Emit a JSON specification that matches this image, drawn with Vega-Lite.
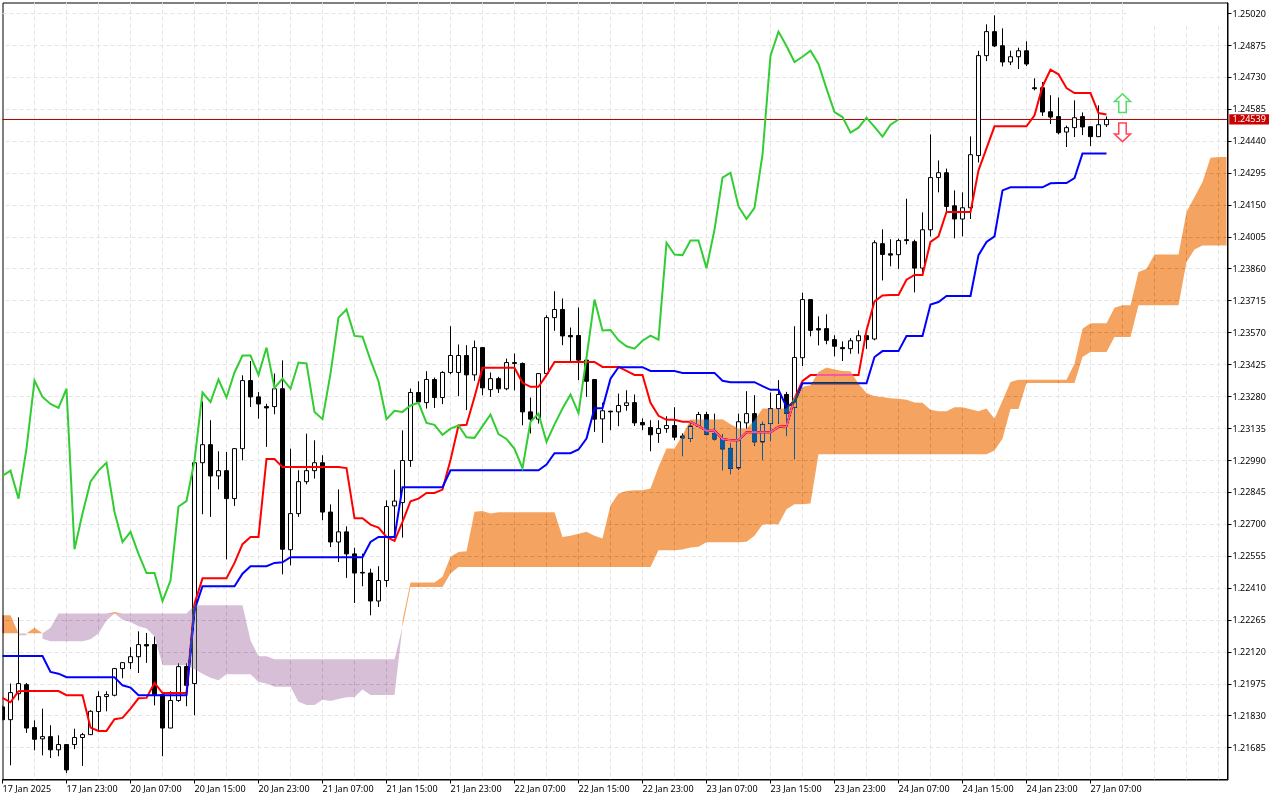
{"$schema":"https://vega.github.io/schema/vega-lite/v6.json","width":1225,"height":777,"autosize":"none","padding":{"left":2.5,"top":2.5,"right":52.5,"bottom":20.5},"background":"white","config":{"view":{"stroke":"black","strokeWidth":1},"axis":{"translate":0,"labelOverlap":false}},
"datasets":{
"candles":[
{"bar":0,"open":1.21871,"high":1.21878,"low":1.2181,"close":1.21813},
{"bar":1,"open":1.21813,"high":1.21977,"low":1.21606,"close":1.21936},
{"bar":2,"open":1.21931,"high":1.22278,"low":1.21901,"close":1.21977},
{"bar":3,"open":1.21972,"high":1.2198,"low":1.21753,"close":1.21775},
{"bar":4,"open":1.21777,"high":1.2181,"low":1.21674,"close":1.21724},
{"bar":5,"open":1.21726,"high":1.21863,"low":1.21651,"close":1.21736},
{"bar":6,"open":1.21736,"high":1.21788,"low":1.21639,"close":1.21676},
{"bar":7,"open":1.21676,"high":1.21742,"low":1.21647,"close":1.217},
{"bar":8,"open":1.217,"high":1.217,"low":1.21571,"close":1.21585},
{"bar":9,"open":1.217,"high":1.21772,"low":1.21679,"close":1.21732},
{"bar":10,"open":1.21732,"high":1.21753,"low":1.21603,"close":1.21745},
{"bar":11,"open":1.21745,"high":1.21856,"low":1.21745,"close":1.21851},
{"bar":12,"open":1.2185,"high":1.21942,"low":1.21762,"close":1.21918},
{"bar":13,"open":1.21918,"high":1.21942,"low":1.21851,"close":1.21927},
{"bar":14,"open":1.21924,"high":1.22048,"low":1.21919,"close":1.22045},
{"bar":15,"open":1.22045,"high":1.22072,"low":1.22001,"close":1.22072},
{"bar":16,"open":1.22072,"high":1.22142,"low":1.22043,"close":1.22099},
{"bar":17,"open":1.22099,"high":1.22214,"low":1.22025,"close":1.22154},
{"bar":18,"open":1.22154,"high":1.22207,"low":1.22071,"close":1.22148},
{"bar":19,"open":1.22154,"high":1.2219,"low":1.21878,"close":1.21927},
{"bar":20,"open":1.21927,"high":1.21927,"low":1.21647,"close":1.21775},
{"bar":21,"open":1.21775,"high":1.21942,"low":1.21775,"close":1.219},
{"bar":22,"open":1.219,"high":1.22068,"low":1.21894,"close":1.22054},
{"bar":23,"open":1.22054,"high":1.22068,"low":1.21874,"close":1.21969},
{"bar":24,"open":1.21977,"high":1.2298,"low":1.21833,"close":1.2298},
{"bar":25,"open":1.2298,"high":1.23259,"low":1.22746,"close":1.23062},
{"bar":26,"open":1.23062,"high":1.23173,"low":1.22734,"close":1.2292},
{"bar":27,"open":1.2292,"high":1.23032,"low":1.22859,"close":1.22944},
{"bar":28,"open":1.22944,"high":1.23029,"low":1.22541,"close":1.22817},
{"bar":29,"open":1.22817,"high":1.23047,"low":1.22784,"close":1.23044},
{"bar":30,"open":1.23044,"high":1.23377,"low":1.22991,"close":1.23353},
{"bar":31,"open":1.23353,"high":1.23442,"low":1.23233,"close":1.23279},
{"bar":32,"open":1.23279,"high":1.23301,"low":1.2318,"close":1.23247},
{"bar":33,"open":1.23235,"high":1.23248,"low":1.23052,"close":1.23229},
{"bar":34,"open":1.23235,"high":1.23385,"low":1.232,"close":1.23316},
{"bar":35,"open":1.23316,"high":1.23445,"low":1.22473,"close":1.22587},
{"bar":36,"open":1.22585,"high":1.23044,"low":1.22514,"close":1.22749},
{"bar":37,"open":1.22749,"high":1.22946,"low":1.22734,"close":1.22894},
{"bar":38,"open":1.22894,"high":1.23112,"low":1.22882,"close":1.22944},
{"bar":39,"open":1.22944,"high":1.23082,"low":1.22908,"close":1.2298},
{"bar":40,"open":1.2298,"high":1.23014,"low":1.22719,"close":1.22756},
{"bar":41,"open":1.22756,"high":1.22791,"low":1.22597,"close":1.2262},
{"bar":42,"open":1.2262,"high":1.22859,"low":1.22529,"close":1.22666},
{"bar":43,"open":1.22666,"high":1.22691,"low":1.22457,"close":1.22566},
{"bar":44,"open":1.22566,"high":1.22594,"low":1.22343,"close":1.22479},
{"bar":45,"open":1.22482,"high":1.22567,"low":1.22419,"close":1.22479},
{"bar":46,"open":1.22479,"high":1.22499,"low":1.22287,"close":1.22352},
{"bar":47,"open":1.22352,"high":1.2251,"low":1.22325,"close":1.22445},
{"bar":48,"open":1.22445,"high":1.22809,"low":1.22416,"close":1.22781},
{"bar":49,"open":1.22784,"high":1.22949,"low":1.22643,"close":1.22806},
{"bar":50,"open":1.22799,"high":1.23127,"low":1.2264,"close":1.2299},
{"bar":51,"open":1.2299,"high":1.23317,"low":1.22961,"close":1.23299},
{"bar":52,"open":1.23299,"high":1.2335,"low":1.23253,"close":1.23256},
{"bar":53,"open":1.23253,"high":1.23396,"low":1.23226,"close":1.23358},
{"bar":54,"open":1.23358,"high":1.23367,"low":1.23229,"close":1.23276},
{"bar":55,"open":1.23276,"high":1.23396,"low":1.23246,"close":1.2339},
{"bar":56,"open":1.2339,"high":1.236,"low":1.23382,"close":1.23467},
{"bar":57,"open":1.2339,"high":1.23517,"low":1.23282,"close":1.23467},
{"bar":58,"open":1.23467,"high":1.23514,"low":1.23219,"close":1.23379},
{"bar":59,"open":1.23379,"high":1.23535,"low":1.23352,"close":1.23503},
{"bar":60,"open":1.23503,"high":1.23503,"low":1.23287,"close":1.2332},
{"bar":61,"open":1.23312,"high":1.2339,"low":1.23279,"close":1.23362},
{"bar":62,"open":1.23362,"high":1.2337,"low":1.23297,"close":1.23316},
{"bar":63,"open":1.23316,"high":1.23453,"low":1.23309,"close":1.23435},
{"bar":64,"open":1.23435,"high":1.23476,"low":1.23309,"close":1.23431},
{"bar":65,"open":1.23431,"high":1.23435,"low":1.2315,"close":1.23211},
{"bar":66,"open":1.23211,"high":1.23276,"low":1.23113,"close":1.23178},
{"bar":67,"open":1.23178,"high":1.23385,"low":1.23158,"close":1.23385},
{"bar":68,"open":1.23385,"high":1.2365,"low":1.23378,"close":1.23639},
{"bar":69,"open":1.23639,"high":1.23759,"low":1.23579,"close":1.23676},
{"bar":70,"open":1.23676,"high":1.23726,"low":1.23514,"close":1.23556},
{"bar":71,"open":1.23558,"high":1.23594,"low":1.23441,"close":1.23552},
{"bar":72,"open":1.23558,"high":1.23685,"low":1.23355,"close":1.23446},
{"bar":73,"open":1.23446,"high":1.23453,"low":1.23279,"close":1.2335},
{"bar":74,"open":1.23358,"high":1.23358,"low":1.2312,"close":1.23178},
{"bar":75,"open":1.23179,"high":1.23253,"low":1.2307,"close":1.23216},
{"bar":76,"open":1.23214,"high":1.23216,"low":1.23128,"close":1.23211},
{"bar":77,"open":1.23211,"high":1.23294,"low":1.23146,"close":1.2324},
{"bar":78,"open":1.2324,"high":1.23309,"low":1.23216,"close":1.23252},
{"bar":79,"open":1.23253,"high":1.2329,"low":1.23147,"close":1.23161},
{"bar":80,"open":1.23163,"high":1.23181,"low":1.23128,"close":1.23152},
{"bar":81,"open":1.2314,"high":1.23173,"low":1.23032,"close":1.23107},
{"bar":82,"open":1.23113,"high":1.23173,"low":1.2307,"close":1.23135},
{"bar":83,"open":1.23135,"high":1.23191,"low":1.23116,"close":1.23149},
{"bar":84,"open":1.23149,"high":1.23232,"low":1.23082,"close":1.23096},
{"bar":85,"open":1.23101,"high":1.23113,"low":1.2301,"close":1.23093},
{"bar":86,"open":1.2309,"high":1.23158,"low":1.23075,"close":1.23146},
{"bar":87,"open":1.23146,"high":1.23211,"low":1.23143,"close":1.23199},
{"bar":88,"open":1.23199,"high":1.23211,"low":1.23105,"close":1.2311},
{"bar":89,"open":1.23113,"high":1.23203,"low":1.23082,"close":1.23088},
{"bar":90,"open":1.23088,"high":1.2311,"low":1.22946,"close":1.23043},
{"bar":91,"open":1.23045,"high":1.23067,"low":1.22928,"close":1.22955},
{"bar":92,"open":1.22957,"high":1.23203,"low":1.22949,"close":1.23166},
{"bar":93,"open":1.23161,"high":1.23305,"low":1.23135,"close":1.23203},
{"bar":94,"open":1.23203,"high":1.23287,"low":1.23057,"close":1.23075},
{"bar":95,"open":1.23075,"high":1.23166,"low":1.22992,"close":1.23154},
{"bar":96,"open":1.23158,"high":1.23299,"low":1.23078,"close":1.23226},
{"bar":97,"open":1.23226,"high":1.23355,"low":1.23158,"close":1.2329},
{"bar":98,"open":1.2329,"high":1.23302,"low":1.23101,"close":1.23205},
{"bar":99,"open":1.23231,"high":1.236,"low":1.22996,"close":1.23458},
{"bar":100,"open":1.23457,"high":1.23752,"low":1.23419,"close":1.23721},
{"bar":101,"open":1.23721,"high":1.23721,"low":1.23554,"close":1.23581},
{"bar":102,"open":1.23589,"high":1.23645,"low":1.23513,"close":1.23583},
{"bar":103,"open":1.23589,"high":1.23654,"low":1.23518,"close":1.23536},
{"bar":104,"open":1.23539,"high":1.23559,"low":1.23463,"close":1.23509},
{"bar":105,"open":1.23503,"high":1.23531,"low":1.23442,"close":1.23498},
{"bar":106,"open":1.23498,"high":1.23546,"low":1.23475,"close":1.23534},
{"bar":107,"open":1.23534,"high":1.23581,"low":1.23475,"close":1.23557},
{"bar":108,"open":1.23557,"high":1.23557,"low":1.23497,"close":1.23539},
{"bar":109,"open":1.23542,"high":1.2399,"low":1.23536,"close":1.23979},
{"bar":110,"open":1.23975,"high":1.2404,"low":1.23808,"close":1.23926},
{"bar":111,"open":1.23929,"high":1.23995,"low":1.23872,"close":1.23923},
{"bar":112,"open":1.23925,"high":1.23998,"low":1.2386,"close":1.23989},
{"bar":113,"open":1.23993,"high":1.24179,"low":1.23972,"close":1.23989},
{"bar":114,"open":1.23984,"high":1.23993,"low":1.23754,"close":1.23864},
{"bar":115,"open":1.23864,"high":1.24117,"low":1.23846,"close":1.24038},
{"bar":116,"open":1.24038,"high":1.24471,"low":1.24008,"close":1.24275},
{"bar":117,"open":1.24275,"high":1.24353,"low":1.24208,"close":1.24297},
{"bar":118,"open":1.24297,"high":1.24316,"low":1.24117,"close":1.24144},
{"bar":119,"open":1.24147,"high":1.24217,"low":1.23999,"close":1.24087},
{"bar":120,"open":1.24087,"high":1.24208,"low":1.24008,"close":1.24138},
{"bar":121,"open":1.24138,"high":1.24462,"low":1.24087,"close":1.24379},
{"bar":122,"open":1.24375,"high":1.24851,"low":1.24344,"close":1.24829},
{"bar":123,"open":1.24829,"high":1.24971,"low":1.24804,"close":1.24938},
{"bar":124,"open":1.24938,"high":1.25012,"low":1.24868,"close":1.24873},
{"bar":125,"open":1.24874,"high":1.24953,"low":1.2478,"close":1.248},
{"bar":126,"open":1.248,"high":1.24851,"low":1.24786,"close":1.24824},
{"bar":127,"open":1.24824,"high":1.24865,"low":1.24768,"close":1.24851},
{"bar":128,"open":1.24851,"high":1.24894,"low":1.24782,"close":1.24791},
{"bar":129,"open":1.24683,"high":1.24726,"low":1.24671,"close":1.24679},
{"bar":130,"open":1.24683,"high":1.24709,"low":1.24555,"close":1.24573},
{"bar":131,"open":1.24574,"high":1.24649,"low":1.24518,"close":1.2455},
{"bar":132,"open":1.24552,"high":1.24639,"low":1.24471,"close":1.24479},
{"bar":133,"open":1.24482,"high":1.24511,"low":1.24414,"close":1.24502},
{"bar":134,"open":1.24502,"high":1.24626,"low":1.24459,"close":1.24547},
{"bar":135,"open":1.24552,"high":1.24571,"low":1.24468,"close":1.24505},
{"bar":136,"open":1.24506,"high":1.24506,"low":1.24418,"close":1.24461},
{"bar":137,"open":1.24461,"high":1.24603,"low":1.24459,"close":1.24515},
{"bar":138,"open":1.24515,"high":1.24553,"low":1.24505,"close":1.24539}
],
"lines":[
{"bar":0,"tenkan":1.21912,"kijun":1.22102},{"bar":1,"tenkan":1.21892,"kijun":1.22102},{"bar":2,"tenkan":1.21942,"kijun":1.22102},{"bar":3,"tenkan":1.21943,"kijun":1.22102},{"bar":4,"tenkan":1.21943,"kijun":1.22102},{"bar":5,"tenkan":1.21943,"kijun":1.22102},{"bar":6,"tenkan":1.21943,"kijun":1.2203},{"bar":7,"tenkan":1.21943,"kijun":1.22022},{"bar":8,"tenkan":1.21924,"kijun":1.22006},{"bar":9,"tenkan":1.21924,"kijun":1.22006},
{"bar":10,"tenkan":1.21924,"kijun":1.22006},{"bar":11,"tenkan":1.21777,"kijun":1.22006},{"bar":12,"tenkan":1.21762,"kijun":1.22006},{"bar":13,"tenkan":1.21762,"kijun":1.22006},{"bar":14,"tenkan":1.21815,"kijun":1.22006},{"bar":15,"tenkan":1.21821,"kijun":1.21969},{"bar":16,"tenkan":1.21863,"kijun":1.21959},{"bar":17,"tenkan":1.2191,"kijun":1.21924},{"bar":18,"tenkan":1.21912,"kijun":1.21924},{"bar":19,"tenkan":1.2198,"kijun":1.21924},
{"bar":20,"tenkan":1.21934,"kijun":1.21924},{"bar":21,"tenkan":1.21934,"kijun":1.21924},{"bar":22,"tenkan":1.21934,"kijun":1.21924},{"bar":23,"tenkan":1.21934,"kijun":1.21924},{"bar":24,"tenkan":1.2234,"kijun":1.2231},{"bar":25,"tenkan":1.22455,"kijun":1.22419},{"bar":26,"tenkan":1.22455,"kijun":1.22419},{"bar":27,"tenkan":1.22455,"kijun":1.22419},{"bar":28,"tenkan":1.22455,"kijun":1.22419},{"bar":29,"tenkan":1.22525,"kijun":1.22419},
{"bar":30,"tenkan":1.2261,"kijun":1.22476},{"bar":31,"tenkan":1.22643,"kijun":1.2251},{"bar":32,"tenkan":1.22643,"kijun":1.2251},{"bar":33,"tenkan":1.22997,"kijun":1.2251},{"bar":34,"tenkan":1.22997,"kijun":1.22525},{"bar":35,"tenkan":1.22961,"kijun":1.22528},{"bar":36,"tenkan":1.22961,"kijun":1.22551},{"bar":37,"tenkan":1.22961,"kijun":1.22551},{"bar":38,"tenkan":1.22961,"kijun":1.22551},{"bar":39,"tenkan":1.22961,"kijun":1.22551},
{"bar":40,"tenkan":1.22961,"kijun":1.22551},{"bar":41,"tenkan":1.22961,"kijun":1.22551},{"bar":42,"tenkan":1.22961,"kijun":1.22551},{"bar":43,"tenkan":1.22956,"kijun":1.22551},{"bar":44,"tenkan":1.22728,"kijun":1.22551},{"bar":45,"tenkan":1.22728,"kijun":1.22551},{"bar":46,"tenkan":1.22699,"kijun":1.2262},{"bar":47,"tenkan":1.22685,"kijun":1.22643},{"bar":48,"tenkan":1.22643,"kijun":1.22643},{"bar":49,"tenkan":1.22625,"kijun":1.22643},
{"bar":50,"tenkan":1.22711,"kijun":1.22869},{"bar":51,"tenkan":1.22805,"kijun":1.22869},{"bar":52,"tenkan":1.22817,"kijun":1.22869},{"bar":53,"tenkan":1.22843,"kijun":1.22869},{"bar":54,"tenkan":1.22843,"kijun":1.22869},{"bar":55,"tenkan":1.22858,"kijun":1.22869},{"bar":56,"tenkan":1.22992,"kijun":1.22946},{"bar":57,"tenkan":1.23149,"kijun":1.22946},{"bar":58,"tenkan":1.23152,"kijun":1.22946},{"bar":59,"tenkan":1.23279,"kijun":1.22946},
{"bar":60,"tenkan":1.23411,"kijun":1.22946},{"bar":61,"tenkan":1.23411,"kijun":1.22946},{"bar":62,"tenkan":1.23411,"kijun":1.22946},{"bar":63,"tenkan":1.23411,"kijun":1.22946},{"bar":64,"tenkan":1.23411,"kijun":1.22946},{"bar":65,"tenkan":1.23343,"kijun":1.22946},{"bar":66,"tenkan":1.23325,"kijun":1.22946},{"bar":67,"tenkan":1.23325,"kijun":1.22946},{"bar":68,"tenkan":1.23378,"kijun":1.22972},{"bar":69,"tenkan":1.23438,"kijun":1.23023},
{"bar":70,"tenkan":1.23438,"kijun":1.23023},{"bar":71,"tenkan":1.23438,"kijun":1.23023},{"bar":72,"tenkan":1.23438,"kijun":1.2304},{"bar":73,"tenkan":1.23438,"kijun":1.2309},{"bar":74,"tenkan":1.23438,"kijun":1.23228},{"bar":75,"tenkan":1.23415,"kijun":1.23228},{"bar":76,"tenkan":1.23415,"kijun":1.23362},{"bar":77,"tenkan":1.23415,"kijun":1.23414},{"bar":78,"tenkan":1.23397,"kijun":1.23414},{"bar":79,"tenkan":1.23379,"kijun":1.23414},
{"bar":80,"tenkan":1.23379,"kijun":1.23414},{"bar":81,"tenkan":1.23252,"kijun":1.23397},{"bar":82,"tenkan":1.23193,"kijun":1.23397},{"bar":83,"tenkan":1.23175,"kijun":1.23397},{"bar":84,"tenkan":1.23175,"kijun":1.23397},{"bar":85,"tenkan":1.23166,"kijun":1.23388},{"bar":86,"tenkan":1.23166,"kijun":1.23388},{"bar":87,"tenkan":1.23147,"kijun":1.23388},{"bar":88,"tenkan":1.23125,"kijun":1.23388},{"bar":89,"tenkan":1.23125,"kijun":1.23388},
{"bar":90,"tenkan":1.23088,"kijun":1.23352},{"bar":91,"tenkan":1.23082,"kijun":1.23346},{"bar":92,"tenkan":1.23082,"kijun":1.23346},{"bar":93,"tenkan":1.23119,"kijun":1.23346},{"bar":94,"tenkan":1.23119,"kijun":1.23346},{"bar":95,"tenkan":1.23119,"kijun":1.23328},{"bar":96,"tenkan":1.23119,"kijun":1.23311},{"bar":97,"tenkan":1.23143,"kijun":1.23311},{"bar":98,"tenkan":1.23146,"kijun":1.23234},{"bar":99,"tenkan":1.23272,"kijun":1.23256},
{"bar":100,"tenkan":1.23352,"kijun":1.23341},{"bar":101,"tenkan":1.23378,"kijun":1.23341},{"bar":102,"tenkan":1.23379,"kijun":1.23341},{"bar":103,"tenkan":1.23378,"kijun":1.23341},{"bar":104,"tenkan":1.23378,"kijun":1.23341},{"bar":105,"tenkan":1.23378,"kijun":1.23341},{"bar":106,"tenkan":1.23378,"kijun":1.23341},{"bar":107,"tenkan":1.23378,"kijun":1.23341},{"bar":108,"tenkan":1.23581,"kijun":1.23341},{"bar":109,"tenkan":1.23713,"kijun":1.2346},
{"bar":110,"tenkan":1.2374,"kijun":1.23487},{"bar":111,"tenkan":1.23742,"kijun":1.23487},{"bar":112,"tenkan":1.23742,"kijun":1.23487},{"bar":113,"tenkan":1.23811,"kijun":1.23556},{"bar":114,"tenkan":1.23833,"kijun":1.23556},{"bar":115,"tenkan":1.23833,"kijun":1.23556},{"bar":116,"tenkan":1.23983,"kijun":1.23699},{"bar":117,"tenkan":1.24008,"kijun":1.2371},{"bar":118,"tenkan":1.24119,"kijun":1.23737},{"bar":119,"tenkan":1.24119,"kijun":1.23737},
{"bar":120,"tenkan":1.24119,"kijun":1.23737},{"bar":121,"tenkan":1.24119,"kijun":1.23737},{"bar":122,"tenkan":1.24308,"kijun":1.23923},{"bar":123,"tenkan":1.24408,"kijun":1.23983},{"bar":124,"tenkan":1.24508,"kijun":1.24008},{"bar":125,"tenkan":1.24508,"kijun":1.24217},{"bar":126,"tenkan":1.24508,"kijun":1.24231},{"bar":127,"tenkan":1.24508,"kijun":1.24231},{"bar":128,"tenkan":1.24508,"kijun":1.24231},{"bar":129,"tenkan":1.24558,"kijun":1.24231},
{"bar":130,"tenkan":1.24689,"kijun":1.24231},{"bar":131,"tenkan":1.24765,"kijun":1.24249},{"bar":132,"tenkan":1.24744,"kijun":1.2425},{"bar":133,"tenkan":1.24682,"kijun":1.2425},{"bar":134,"tenkan":1.24659,"kijun":1.24273},{"bar":135,"tenkan":1.24659,"kijun":1.24385},{"bar":136,"tenkan":1.24659,"kijun":1.24385},{"bar":137,"tenkan":1.24568,"kijun":1.24385},{"bar":138,"tenkan":1.24562,"kijun":1.24385}
],
"chikou":[
{"bar":0,"value":1.2292},{"bar":1,"value":1.22944},{"bar":2,"value":1.22817},{"bar":3,"value":1.23044},{"bar":4,"value":1.23353},{"bar":5,"value":1.23279},{"bar":6,"value":1.23247},{"bar":7,"value":1.23229},{"bar":8,"value":1.23316},{"bar":9,"value":1.22587},
{"bar":10,"value":1.22749},{"bar":11,"value":1.22894},{"bar":12,"value":1.22944},{"bar":13,"value":1.2298},{"bar":14,"value":1.22756},{"bar":15,"value":1.2262},{"bar":16,"value":1.22666},{"bar":17,"value":1.22566},{"bar":18,"value":1.22479},{"bar":19,"value":1.22479},
{"bar":20,"value":1.22352},{"bar":21,"value":1.22445},{"bar":22,"value":1.22781},{"bar":23,"value":1.22806},{"bar":24,"value":1.2299},{"bar":25,"value":1.23299},{"bar":26,"value":1.23256},{"bar":27,"value":1.23358},{"bar":28,"value":1.23276},{"bar":29,"value":1.2339},
{"bar":30,"value":1.23467},{"bar":31,"value":1.23467},{"bar":32,"value":1.23379},{"bar":33,"value":1.23503},{"bar":34,"value":1.2332},{"bar":35,"value":1.23362},{"bar":36,"value":1.23316},{"bar":37,"value":1.23435},{"bar":38,"value":1.23431},{"bar":39,"value":1.23211},
{"bar":40,"value":1.23178},{"bar":41,"value":1.23385},{"bar":42,"value":1.23639},{"bar":43,"value":1.23676},{"bar":44,"value":1.23556},{"bar":45,"value":1.23552},{"bar":46,"value":1.23446},{"bar":47,"value":1.2335},{"bar":48,"value":1.23178},{"bar":49,"value":1.23216},
{"bar":50,"value":1.23211},{"bar":51,"value":1.2324},{"bar":52,"value":1.23252},{"bar":53,"value":1.23161},{"bar":54,"value":1.23152},{"bar":55,"value":1.23107},{"bar":56,"value":1.23135},{"bar":57,"value":1.23149},{"bar":58,"value":1.23096},{"bar":59,"value":1.23093},
{"bar":60,"value":1.23146},{"bar":61,"value":1.23199},{"bar":62,"value":1.2311},{"bar":63,"value":1.23088},{"bar":64,"value":1.23043},{"bar":65,"value":1.22955},{"bar":66,"value":1.23166},{"bar":67,"value":1.23203},{"bar":68,"value":1.23075},{"bar":69,"value":1.23154},
{"bar":70,"value":1.23226},{"bar":71,"value":1.2329},{"bar":72,"value":1.23205},{"bar":73,"value":1.23458},{"bar":74,"value":1.23721},{"bar":75,"value":1.23581},{"bar":76,"value":1.23583},{"bar":77,"value":1.23536},{"bar":78,"value":1.23509},{"bar":79,"value":1.23498},
{"bar":80,"value":1.23534},{"bar":81,"value":1.23557},{"bar":82,"value":1.23539},{"bar":83,"value":1.23979},{"bar":84,"value":1.23926},{"bar":85,"value":1.23923},{"bar":86,"value":1.23989},{"bar":87,"value":1.23989},{"bar":88,"value":1.23864},{"bar":89,"value":1.24038},
{"bar":90,"value":1.24275},{"bar":91,"value":1.24297},{"bar":92,"value":1.24144},{"bar":93,"value":1.24087},{"bar":94,"value":1.24138},{"bar":95,"value":1.24379},{"bar":96,"value":1.24829},{"bar":97,"value":1.24938},{"bar":98,"value":1.24873},{"bar":99,"value":1.248},
{"bar":100,"value":1.24824},{"bar":101,"value":1.24851},{"bar":102,"value":1.24791},{"bar":103,"value":1.24679},{"bar":104,"value":1.24573},{"bar":105,"value":1.2455},{"bar":106,"value":1.24479},{"bar":107,"value":1.24502},{"bar":108,"value":1.24547},{"bar":109,"value":1.24505},{"bar":110,"value":1.24461},{"bar":111,"value":1.24515},{"bar":112,"value":1.24539}
],
"vgrid":[
{"bar":4,"top":1.2507,"bottom":1.2154},{"bar":8,"top":1.2507,"bottom":1.2154},{"bar":12,"top":1.2507,"bottom":1.2154},{"bar":16,"top":1.2507,"bottom":1.2154},{"bar":20,"top":1.2507,"bottom":1.2154},{"bar":24,"top":1.2507,"bottom":1.2154},{"bar":28,"top":1.2507,"bottom":1.2154},{"bar":32,"top":1.2507,"bottom":1.2154},{"bar":36,"top":1.2507,"bottom":1.2154},{"bar":40,"top":1.2507,"bottom":1.2154},{"bar":44,"top":1.2507,"bottom":1.2154},{"bar":48,"top":1.2507,"bottom":1.2154},{"bar":52,"top":1.2507,"bottom":1.2154},{"bar":56,"top":1.2507,"bottom":1.2154},{"bar":60,"top":1.2507,"bottom":1.2154},{"bar":64,"top":1.2507,"bottom":1.2154},{"bar":68,"top":1.2507,"bottom":1.2154},{"bar":72,"top":1.2507,"bottom":1.2154},{"bar":76,"top":1.2507,"bottom":1.2154},{"bar":80,"top":1.2507,"bottom":1.2154},{"bar":84,"top":1.2507,"bottom":1.2154},{"bar":88,"top":1.2507,"bottom":1.2154},{"bar":92,"top":1.2507,"bottom":1.2154},{"bar":96,"top":1.2507,"bottom":1.2154},{"bar":100,"top":1.2507,"bottom":1.2154},{"bar":104,"top":1.2507,"bottom":1.2154},{"bar":108,"top":1.2507,"bottom":1.2154},{"bar":112,"top":1.2507,"bottom":1.2154},{"bar":116,"top":1.2507,"bottom":1.2154},{"bar":120,"top":1.2507,"bottom":1.2154},{"bar":124,"top":1.2507,"bottom":1.2154},{"bar":128,"top":1.2507,"bottom":1.2154},{"bar":132,"top":1.2507,"bottom":1.2154},{"bar":136,"top":1.2507,"bottom":1.2154},{"bar":140,"top":1.2507,"bottom":1.2154},{"bar":144,"top":1.24962,"bottom":1.2154},{"bar":148,"top":1.24962,"bottom":1.2154},{"bar":152,"top":1.24962,"bottom":1.2154}
],
"cloud":[
{"seg":"a","kind":"up","bar":0,"top":1.22287,"bottom":1.22205},{"seg":"a","kind":"up","bar":1,"top":1.22287,"bottom":1.22205},{"seg":"a","kind":"up","bar":2,"top":1.22205,"bottom":1.22205},
{"seg":"b","kind":"down","bar":2,"top":1.22205,"bottom":1.22196},{"seg":"b","kind":"down","bar":3,"top":1.22205,"bottom":1.22196},
{"seg":"c","kind":"up","bar":3,"top":1.22205,"bottom":1.22205},{"seg":"c","kind":"up","bar":4,"top":1.22231,"bottom":1.22205},{"seg":"c","kind":"up","bar":5,"top":1.22205,"bottom":1.22205},
{"seg":"d","kind":"down","bar":5,"top":1.22205,"bottom":1.22181},{"seg":"d","kind":"down","bar":6,"top":1.22231,"bottom":1.22169},{"seg":"d","kind":"down","bar":7,"top":1.22295,"bottom":1.22169},{"seg":"d","kind":"down","bar":8,"top":1.22295,"bottom":1.22169},{"seg":"d","kind":"down","bar":9,"top":1.22295,"bottom":1.22169},{"seg":"d","kind":"down","bar":10,"top":1.22295,"bottom":1.22169},{"seg":"d","kind":"down","bar":11,"top":1.22295,"bottom":1.22178},{"seg":"d","kind":"down","bar":12,"top":1.22295,"bottom":1.22204},{"seg":"d","kind":"down","bar":13,"top":1.22295,"bottom":1.22264},{"seg":"d","kind":"down","bar":14,"top":1.22295,"bottom":1.22295},
{"seg":"e","kind":"up","bar":13,"top":1.22295,"bottom":1.22295},{"seg":"e","kind":"up","bar":14,"top":1.22302,"bottom":1.22295},{"seg":"e","kind":"up","bar":15,"top":1.22295,"bottom":1.22295},
{"seg":"f","kind":"down","bar":14,"top":1.22295,"bottom":1.22295},{"seg":"f","kind":"down","bar":15,"top":1.22295,"bottom":1.22267},{"seg":"f","kind":"down","bar":16,"top":1.22295,"bottom":1.22257},{"seg":"f","kind":"down","bar":17,"top":1.22295,"bottom":1.22237},{"seg":"f","kind":"down","bar":18,"top":1.22295,"bottom":1.22227},{"seg":"f","kind":"down","bar":19,"top":1.22295,"bottom":1.22192},{"seg":"f","kind":"down","bar":20,"top":1.22295,"bottom":1.2206},{"seg":"f","kind":"down","bar":21,"top":1.22295,"bottom":1.2206},{"seg":"f","kind":"down","bar":22,"top":1.22295,"bottom":1.2206},{"seg":"f","kind":"down","bar":23,"top":1.22295,"bottom":1.2206},{"seg":"f","kind":"down","bar":24,"top":1.22333,"bottom":1.22042},{"seg":"f","kind":"down","bar":25,"top":1.22333,"bottom":1.22022},{"seg":"f","kind":"down","bar":26,"top":1.22333,"bottom":1.22004},{"seg":"f","kind":"down","bar":27,"top":1.22333,"bottom":1.21992},{"seg":"f","kind":"down","bar":28,"top":1.22333,"bottom":1.22019},{"seg":"f","kind":"down","bar":29,"top":1.22333,"bottom":1.22019},{"seg":"f","kind":"down","bar":30,"top":1.22333,"bottom":1.22019},{"seg":"f","kind":"down","bar":31,"top":1.22174,"bottom":1.22019},{"seg":"f","kind":"down","bar":32,"top":1.22101,"bottom":1.21984},{"seg":"f","kind":"down","bar":33,"top":1.22101,"bottom":1.21977},{"seg":"f","kind":"down","bar":34,"top":1.22087,"bottom":1.21962},{"seg":"f","kind":"down","bar":35,"top":1.22087,"bottom":1.21962},{"seg":"f","kind":"down","bar":36,"top":1.22087,"bottom":1.21962},{"seg":"f","kind":"down","bar":37,"top":1.22087,"bottom":1.21894},{"seg":"f","kind":"down","bar":38,"top":1.22087,"bottom":1.2188},{"seg":"f","kind":"down","bar":39,"top":1.22087,"bottom":1.2188},{"seg":"f","kind":"down","bar":40,"top":1.22087,"bottom":1.21904},{"seg":"f","kind":"down","bar":41,"top":1.22087,"bottom":1.21898},{"seg":"f","kind":"down","bar":42,"top":1.22087,"bottom":1.21907},{"seg":"f","kind":"down","bar":43,"top":1.22087,"bottom":1.21915},{"seg":"f","kind":"down","bar":44,"top":1.22087,"bottom":1.21916},{"seg":"f","kind":"down","bar":45,"top":1.22087,"bottom":1.2195},{"seg":"f","kind":"down","bar":46,"top":1.22087,"bottom":1.21925},{"seg":"f","kind":"down","bar":47,"top":1.22087,"bottom":1.21925},{"seg":"f","kind":"down","bar":48,"top":1.22087,"bottom":1.21925},{"seg":"f","kind":"down","bar":49,"top":1.22087,"bottom":1.21925},{"seg":"f","kind":"down","bar":50,"top":1.22235,"bottom":1.22235},
{"seg":"g","kind":"up","bar":50,"top":1.22262,"bottom":1.22235},{"seg":"g","kind":"up","bar":51,"top":1.22436,"bottom":1.22416},{"seg":"g","kind":"up","bar":52,"top":1.22436,"bottom":1.22416},{"seg":"g","kind":"up","bar":53,"top":1.22436,"bottom":1.22416},{"seg":"g","kind":"up","bar":54,"top":1.22436,"bottom":1.22416},{"seg":"g","kind":"up","bar":55,"top":1.22462,"bottom":1.22416},{"seg":"g","kind":"up","bar":56,"top":1.22553,"bottom":1.22477},{"seg":"g","kind":"up","bar":57,"top":1.22575,"bottom":1.22507},{"seg":"g","kind":"up","bar":58,"top":1.22578,"bottom":1.22507},{"seg":"g","kind":"up","bar":59,"top":1.22757,"bottom":1.22507},{"seg":"g","kind":"up","bar":60,"top":1.22761,"bottom":1.22507},{"seg":"g","kind":"up","bar":61,"top":1.22749,"bottom":1.22507},{"seg":"g","kind":"up","bar":62,"top":1.22755,"bottom":1.22507},{"seg":"g","kind":"up","bar":63,"top":1.22755,"bottom":1.22507},{"seg":"g","kind":"up","bar":64,"top":1.22755,"bottom":1.22507},{"seg":"g","kind":"up","bar":65,"top":1.22755,"bottom":1.22507},{"seg":"g","kind":"up","bar":66,"top":1.22755,"bottom":1.22507},{"seg":"g","kind":"up","bar":67,"top":1.22755,"bottom":1.22507},{"seg":"g","kind":"up","bar":68,"top":1.22755,"bottom":1.22507},{"seg":"g","kind":"up","bar":69,"top":1.22755,"bottom":1.22507},{"seg":"g","kind":"up","bar":70,"top":1.22643,"bottom":1.22507},{"seg":"g","kind":"up","bar":71,"top":1.22648,"bottom":1.22507},{"seg":"g","kind":"up","bar":72,"top":1.22658,"bottom":1.22507},{"seg":"g","kind":"up","bar":73,"top":1.22666,"bottom":1.22507},{"seg":"g","kind":"up","bar":74,"top":1.22648,"bottom":1.22507},{"seg":"g","kind":"up","bar":75,"top":1.22636,"bottom":1.22507},{"seg":"g","kind":"up","bar":76,"top":1.22787,"bottom":1.22507},{"seg":"g","kind":"up","bar":77,"top":1.2284,"bottom":1.22507},{"seg":"g","kind":"up","bar":78,"top":1.22852,"bottom":1.22507},{"seg":"g","kind":"up","bar":79,"top":1.22855,"bottom":1.22507},{"seg":"g","kind":"up","bar":80,"top":1.22855,"bottom":1.22507},{"seg":"g","kind":"up","bar":81,"top":1.22863,"bottom":1.22507},{"seg":"g","kind":"up","bar":82,"top":1.22961,"bottom":1.22583},{"seg":"g","kind":"up","bar":83,"top":1.23045,"bottom":1.22583},{"seg":"g","kind":"up","bar":84,"top":1.23045,"bottom":1.22583},{"seg":"g","kind":"up","bar":85,"top":1.23105,"bottom":1.22586},{"seg":"g","kind":"up","bar":86,"top":1.23176,"bottom":1.22595},{"seg":"g","kind":"up","bar":87,"top":1.23176,"bottom":1.22598},{"seg":"g","kind":"up","bar":88,"top":1.23176,"bottom":1.22619},{"seg":"g","kind":"up","bar":89,"top":1.23176,"bottom":1.22619},{"seg":"g","kind":"up","bar":90,"top":1.23178,"bottom":1.22619},{"seg":"g","kind":"up","bar":91,"top":1.23155,"bottom":1.22619},{"seg":"g","kind":"up","bar":92,"top":1.23135,"bottom":1.22619},{"seg":"g","kind":"up","bar":93,"top":1.23135,"bottom":1.22621},{"seg":"g","kind":"up","bar":94,"top":1.23173,"bottom":1.22648},{"seg":"g","kind":"up","bar":95,"top":1.23226,"bottom":1.22699},{"seg":"g","kind":"up","bar":96,"top":1.23226,"bottom":1.22701},{"seg":"g","kind":"up","bar":97,"top":1.23226,"bottom":1.22701},{"seg":"g","kind":"up","bar":98,"top":1.23226,"bottom":1.22769},{"seg":"g","kind":"up","bar":99,"top":1.23279,"bottom":1.22792},{"seg":"g","kind":"up","bar":100,"top":1.23325,"bottom":1.22792},{"seg":"g","kind":"up","bar":101,"top":1.23332,"bottom":1.22795},{"seg":"g","kind":"up","bar":102,"top":1.23392,"bottom":1.23018},{"seg":"g","kind":"up","bar":103,"top":1.23412,"bottom":1.23018},{"seg":"g","kind":"up","bar":104,"top":1.23404,"bottom":1.23018},{"seg":"g","kind":"up","bar":105,"top":1.23397,"bottom":1.23018},{"seg":"g","kind":"up","bar":106,"top":1.23395,"bottom":1.23018},{"seg":"g","kind":"up","bar":107,"top":1.23339,"bottom":1.23018},{"seg":"g","kind":"up","bar":108,"top":1.23297,"bottom":1.23018},{"seg":"g","kind":"up","bar":109,"top":1.23282,"bottom":1.23018},{"seg":"g","kind":"up","bar":110,"top":1.23279,"bottom":1.23018},{"seg":"g","kind":"up","bar":111,"top":1.23273,"bottom":1.23018},{"seg":"g","kind":"up","bar":112,"top":1.23271,"bottom":1.23018},{"seg":"g","kind":"up","bar":113,"top":1.23266,"bottom":1.23018},{"seg":"g","kind":"up","bar":114,"top":1.23254,"bottom":1.23018},{"seg":"g","kind":"up","bar":115,"top":1.23253,"bottom":1.23018},{"seg":"g","kind":"up","bar":116,"top":1.23221,"bottom":1.23018},{"seg":"g","kind":"up","bar":117,"top":1.23214,"bottom":1.23018},{"seg":"g","kind":"up","bar":118,"top":1.23214,"bottom":1.23018},{"seg":"g","kind":"up","bar":119,"top":1.23232,"bottom":1.23018},{"seg":"g","kind":"up","bar":120,"top":1.23232,"bottom":1.23018},{"seg":"g","kind":"up","bar":121,"top":1.23223,"bottom":1.23018},{"seg":"g","kind":"up","bar":122,"top":1.23214,"bottom":1.23018},{"seg":"g","kind":"up","bar":123,"top":1.23226,"bottom":1.23018},{"seg":"g","kind":"up","bar":124,"top":1.2318,"bottom":1.23036},{"seg":"g","kind":"up","bar":125,"top":1.23263,"bottom":1.23089},{"seg":"g","kind":"up","bar":126,"top":1.23347,"bottom":1.23224},{"seg":"g","kind":"up","bar":127,"top":1.23357,"bottom":1.23224},{"seg":"g","kind":"up","bar":128,"top":1.23357,"bottom":1.23342},{"seg":"g","kind":"up","bar":129,"top":1.23357,"bottom":1.23342},{"seg":"g","kind":"up","bar":130,"top":1.23357,"bottom":1.23342},{"seg":"g","kind":"up","bar":131,"top":1.23357,"bottom":1.23342},{"seg":"g","kind":"up","bar":132,"top":1.23357,"bottom":1.23342},{"seg":"g","kind":"up","bar":133,"top":1.23357,"bottom":1.23342},{"seg":"g","kind":"up","bar":134,"top":1.2343,"bottom":1.23342},{"seg":"g","kind":"up","bar":135,"top":1.23589,"bottom":1.2346},{"seg":"g","kind":"up","bar":136,"top":1.23613,"bottom":1.23483},{"seg":"g","kind":"up","bar":137,"top":1.23613,"bottom":1.23483},{"seg":"g","kind":"up","bar":138,"top":1.23613,"bottom":1.23483},{"seg":"g","kind":"up","bar":139,"top":1.23684,"bottom":1.23551},{"seg":"g","kind":"up","bar":140,"top":1.23695,"bottom":1.23551},{"seg":"g","kind":"up","bar":141,"top":1.23695,"bottom":1.23551},{"seg":"g","kind":"up","bar":142,"top":1.23846,"bottom":1.23695},{"seg":"g","kind":"up","bar":143,"top":1.23861,"bottom":1.23695},{"seg":"g","kind":"up","bar":144,"top":1.23926,"bottom":1.23695},{"seg":"g","kind":"up","bar":145,"top":1.23926,"bottom":1.23695},{"seg":"g","kind":"up","bar":146,"top":1.23926,"bottom":1.23695},{"seg":"g","kind":"up","bar":147,"top":1.23926,"bottom":1.23695},{"seg":"g","kind":"up","bar":148,"top":1.24119,"bottom":1.23892},{"seg":"g","kind":"up","bar":149,"top":1.24187,"bottom":1.23948},{"seg":"g","kind":"up","bar":150,"top":1.24255,"bottom":1.23967},{"seg":"g","kind":"up","bar":151,"top":1.24365,"bottom":1.23967},{"seg":"g","kind":"up","bar":152,"top":1.24369,"bottom":1.23967},{"seg":"g","kind":"up","bar":153,"top":1.24369,"bottom":1.23967}
]},
"encoding":{"x":{"field":"bar","type":"quantitative","title":null,"scale":{"domain":[0,153.125],"nice":false,"zero":false,"padding":0},
"axis":{"values":[0,8,16,24,32,40,48,56,64,72,80,88,96,104,112,120,128,136],"labelExpr":"['17 Jan 2025','17 Jan 23:00','20 Jan 07:00','20 Jan 15:00','20 Jan 23:00','21 Jan 07:00','21 Jan 15:00','21 Jan 23:00','22 Jan 07:00','22 Jan 15:00','22 Jan 23:00','23 Jan 07:00','23 Jan 15:00','23 Jan 23:00','24 Jan 07:00','24 Jan 15:00','24 Jan 23:00','27 Jan 07:00'][datum.value/8]","grid":false,"domain":true,"domainColor":"black","tickColor":"black","tickSize":4,"labelColor":"black","labelFont":"Noto Sans","labelFontSize":9,"labelAlign":"left","labelBaseline":"middle","labelPadding":5,"labelFlush":false,"labelBound":false,"labelOverlap":false,"title":null}}},
"layer":[
{"data":{"name":"vgrid"},"mark":{"type":"rule","color":"#e4e4e4","strokeWidth":1,"strokeDash":[4,3]},"encoding":{"y":{"field":"top","type":"quantitative","title":null,"scale":{"domain":[1.215413,1.250703],"nice":false,"zero":false},
"axis":{"orient":"right","values":[1.2502,1.24875,1.2473,1.24585,1.2444,1.24295,1.2415,1.24005,1.2386,1.23715,1.2357,1.23425,1.2328,1.23135,1.2299,1.22845,1.227,1.22555,1.2241,1.22265,1.2212,1.21975,1.2183,1.21685],"tickCount":24,"format":".5f","grid":true,"gridColor":"#e4e4e4","gridDash":[4,3],"gridWidth":1,"gridOpacity":{"condition":{"test":"datum.value>1.25","value":0},"value":1},"domain":true,"domainColor":"black","tickColor":"black","tickSize":4,"labelColor":"black","labelFont":"Noto Sans","labelFontSize":9,"labelPadding":1,"labelOverlap":false,"labelBound":false,"labelFlush":false,"title":null}},"y2":{"field":"bottom"}}},
{"data":{"values":[{"bar":0,"bar2":140.6,"price":1.2502}]},"mark":{"type":"rule","color":"#e4e4e4","strokeWidth":1,"strokeDash":[4,3]},"encoding":{"x2":{"field":"bar2"},"y":{"field":"price","type":"quantitative"}}},
{"data":{"name":"candles"},"mark":{"type":"rule","color":"black","strokeWidth":1,"clip":true},"encoding":{"y":{"field":"low","type":"quantitative"},"y2":{"field":"high"}}},
{"data":{"values":[{"bar":0,"bar2":153.125,"price":1.24539}]},"mark":{"type":"rule","color":"#B00000","strokeWidth":1},"encoding":{"x2":{"field":"bar2"},"y":{"field":"price","type":"quantitative"}}},
{"data":{"name":"candles"},"mark":{"type":"bar","size":4,"stroke":"black","strokeWidth":1,"clip":true},"encoding":{"y":{"field":"open","type":"quantitative"},"y2":{"field":"close"},"fill":{"condition":{"test":"datum.close>=datum.open","value":"white"},"value":"black"}}},
{"data":{"name":"lines"},"mark":{"type":"line","color":"#FF0000","strokeWidth":2},"encoding":{"y":{"field":"tenkan","type":"quantitative"}}},
{"data":{"name":"lines"},"mark":{"type":"line","color":"#0000FF","strokeWidth":2},"encoding":{"y":{"field":"kijun","type":"quantitative"}}},
{"data":{"name":"chikou"},"mark":{"type":"line","color":"#32CD32","strokeWidth":2},"encoding":{"y":{"field":"value","type":"quantitative"}}},
{"data":{"name":"cloud"},"mark":{"type":"area","blend":"difference","interpolate":"linear"},"encoding":{"y":{"field":"top","type":"quantitative","stack":null},"y2":{"field":"bottom"},"detail":{"field":"seg"},"color":{"field":"kind","type":"nominal","legend":null,"scale":{"domain":["up","down"],"range":["#0B5B9F","#274027"]}}}},
{"data":{"values":[{"bar":140,"price":1.24613}]},"mark":{"type":"point","filled":false,"fill":"white","fillOpacity":1,"stroke":"#55DD66","strokeWidth":1.5,"opacity":1,"size":350,"shape":"M0,-1L0.86,-0.18L0.4,-0.18L0.4,1L-0.4,1L-0.4,-0.18L-0.86,-0.18Z"},"encoding":{"y":{"field":"price","type":"quantitative"}}},
{"data":{"values":[{"bar":140,"price":1.24481}]},"mark":{"type":"point","filled":false,"fill":"white","fillOpacity":1,"stroke":"#FF4455","strokeWidth":1.5,"opacity":1,"size":350,"shape":"M0,1L0.86,0.18L0.4,0.18L0.4,-1L-0.4,-1L-0.4,0.18L-0.86,0.18Z"},"encoding":{"y":{"field":"price","type":"quantitative"}}},
{"data":{"values":[{"bar":153.35,"bar2":158.31,"price":1.24563,"price2":1.24516}]},"mark":{"type":"rect","color":"#C80000"},"encoding":{"x2":{"field":"bar2"},"y":{"field":"price","type":"quantitative"},"y2":{"field":"price2"}}},
{"data":{"values":[{"bar":155.83,"price":1.24539,"label":"1.24539"}]},"mark":{"type":"text","color":"white","font":"Noto Sans","fontSize":9,"align":"center","baseline":"middle"},"encoding":{"y":{"field":"price","type":"quantitative"},"text":{"field":"label"}}}
]}
